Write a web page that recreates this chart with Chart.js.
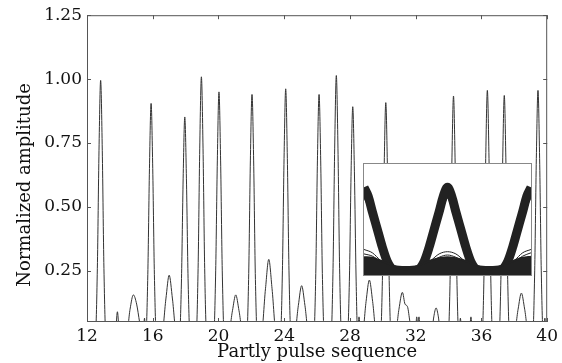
<!DOCTYPE html>
<html>
<head>
<meta charset="utf-8">
<script src="https://cdn.jsdelivr.net/npm/chart.js@4"></script>
<style>
    html, body { margin: 0; padding: 0; background: #fff; }
    #wrap { position: relative; width: 562px; height: 363px; }
    #inset {
        position: absolute; left: 363px; top: 163px;
        width: 169px; height: 113px; box-sizing: border-box;
        border: 1px solid #888; background: #fff;
    }
</style>
</head>
<body>
<div id="wrap">
    <canvas id="mainChart" width="562" height="363"></canvas>
    <div id="inset"><canvas id="insetChart" width="167" height="111"></canvas></div>
</div>
<script>
// Axis ticks
const xTicks = [12, 16, 20, 24, 28, 32, 36, 40];
const yTicks = [0.25, 0.50, 0.75, 1.00, 1.25];

// Pulse sequence trace
const pulseX = [
    12.0, 12.51, 12.63, 12.73, 12.83, 12.93, 13.03, 13.15,
    13.72, 13.85, 13.98,
    14.4, 14.62, 14.82, 15.02, 15.2, 15.35,
    15.42, 15.5, 15.56,
    15.58, 15.7, 15.8, 15.9, 16.0, 16.1, 16.22,
    16.55, 16.8, 17.0, 17.2, 17.45,
    17.63, 17.75, 17.85, 17.95, 18.05, 18.15, 18.27,
    18.64, 18.76, 18.86, 18.96, 19.06, 19.16, 19.28,
    19.71, 19.83, 19.93, 20.03, 20.13, 20.23, 20.35,
    20.6, 20.85, 21.05, 21.25, 21.5,
    21.72, 21.84, 21.94, 22.04, 22.14, 22.24, 22.36,
    22.6, 22.86, 23.06, 23.26, 23.52,
    23.77, 23.89, 23.99, 24.09, 24.19, 24.29, 24.41,
    24.62, 24.86, 25.06, 25.26, 25.5,
    25.8, 25.92, 26.02, 26.12, 26.22, 26.32, 26.44,
    26.85, 26.97, 27.07, 27.17, 27.27, 27.37, 27.49,
    27.85, 27.97, 28.07, 28.17, 28.27, 28.37, 28.47,
    28.55, 28.65,
    28.75, 28.98, 29.18, 29.38, 29.62,
    29.86, 29.98, 30.08, 30.18, 30.28, 30.38, 30.5,
    30.75, 30.98, 31.19, 31.35, 31.5, 31.65, 31.8,
    31.98, 32.06, 32.13, 32.2, 32.28,
    32.95, 33.1, 33.24, 33.38, 33.52,
    33.98, 34.1, 34.2, 34.3, 34.4, 34.5, 34.62,
    34.64, 34.72, 34.8,
    35.26, 35.36, 35.46,
    36.04, 36.16, 36.26, 36.36, 36.46, 36.56, 36.68,
    37.07, 37.19, 37.29, 37.39, 37.49, 37.59, 37.71,
    37.98, 38.23, 38.43, 38.63, 38.88,
    39.12, 39.24, 39.34, 39.44, 39.54, 39.64, 39.76,
    39.8, 39.86, 39.92, 40.0
];
const pulseY = [
    0, 0, 0.26, 0.72, 0.995, 0.72, 0.26, 0,
    0, 0.09, 0,
    0, 0.10, 0.156, 0.12, 0.05, 0,
    0, 0.065, 0,
    0, 0.235, 0.65, 0.905, 0.65, 0.235, 0,
    0, 0.14, 0.233, 0.14, 0,
    0, 0.22, 0.61, 0.852, 0.61, 0.22, 0,
    0, 0.26, 0.73, 1.009, 0.73, 0.26, 0,
    0, 0.25, 0.68, 0.95, 0.68, 0.25, 0,
    0, 0.094, 0.156, 0.094, 0,
    0, 0.24, 0.68, 0.94, 0.68, 0.24, 0,
    0, 0.18, 0.295, 0.18, 0,
    0, 0.25, 0.69, 0.962, 0.69, 0.25, 0,
    0, 0.115, 0.192, 0.115, 0,
    0, 0.24, 0.68, 0.94, 0.68, 0.24, 0,
    0, 0.26, 0.73, 1.014, 0.73, 0.26, 0,
    0, 0.23, 0.64, 0.892, 0.64, 0.23, 0,
    0.07, 0,
    0, 0.13, 0.214, 0.13, 0,
    0, 0.235, 0.65, 0.908, 0.65, 0.235, 0,
    0, 0.10, 0.166, 0.12, 0.11, 0.05, 0,
    0, 0.07, 0.04, 0.07, 0,
    0, 0.07, 0.105, 0.07, 0,
    0, 0.24, 0.67, 0.934, 0.67, 0.24, 0,
    0, 0.065, 0,
    0, 0.07, 0,
    0, 0.25, 0.69, 0.956, 0.69, 0.25, 0,
    0, 0.24, 0.67, 0.936, 0.67, 0.24, 0,
    0, 0.10, 0.163, 0.10, 0,
    0, 0.25, 0.69, 0.956, 0.69, 0.25, 0,
    0, 0.065, 0, 0
];

// Inset eye diagram (two bit periods, normalized box)
const onesX = [0, 0.05, 0.1, 0.16, 0.22, 0.28, 0.35, 0.5, 0.65, 0.72, 0.78, 0.84, 0.9, 0.95, 1.0,
               1.05, 1.1, 1.16, 1.22, 1.28, 1.35, 1.5, 1.65, 1.72, 1.78, 1.84, 1.9, 1.95, 2.0];
const onesY = [0.79, 0.71, 0.57, 0.41, 0.25, 0.12, 0.05, 0.04, 0.05, 0.12, 0.25, 0.41, 0.57, 0.71, 0.79,
               0.71, 0.57, 0.41, 0.25, 0.12, 0.05, 0.04, 0.05, 0.12, 0.25, 0.41, 0.57, 0.71, 0.79];
const onesInnerY = [0.72, 0.66, 0.53, 0.38, 0.23, 0.11, 0.05, 0.04, 0.05, 0.11, 0.23, 0.38, 0.53, 0.66, 0.72,
                    0.66, 0.53, 0.38, 0.23, 0.11, 0.05, 0.04, 0.05, 0.11, 0.23, 0.38, 0.53, 0.66, 0.72];
const gridX = [0, 0.1, 0.2, 0.3, 0.4, 0.5, 0.6, 0.7, 0.8, 0.9, 1.0,
               1.1, 1.2, 1.3, 1.4, 1.5, 1.6, 1.7, 1.8, 1.9, 2.0];
const zeroBand = [0.16, 0.155, 0.13, 0.10, 0.07, 0.05, 0.07, 0.10, 0.13, 0.15, 0.16,
                  0.15, 0.13, 0.10, 0.07, 0.05, 0.07, 0.10, 0.13, 0.155, 0.165];
const arcHigh = [0.23, 0.20, 0.13, 0.08, 0.06, 0.05, 0.06, 0.08, 0.13, 0.19, 0.21,
                 0.19, 0.13, 0.08, 0.06, 0.05, 0.06, 0.08, 0.13, 0.20, 0.23];
const arcMid = [0.19, 0.17, 0.12, 0.08, 0.06, 0.05, 0.06, 0.08, 0.12, 0.16, 0.18,
                0.16, 0.12, 0.08, 0.06, 0.05, 0.06, 0.08, 0.12, 0.17, 0.20];

function toPoints(xs, ys) {
    return xs.map((x, i) => ({ x: x, y: ys[i] }));
}

const serif = "'DejaVu Serif', serif";

// Frame, inward tick marks on all four sides, and the y title
const framePlugin = {
    id: 'frame',
    afterDraw(chart) {
        const { ctx, chartArea: a, scales } = chart;
        ctx.save();
        ctx.strokeStyle = '#555';
        ctx.lineWidth = 1;
        ctx.strokeRect(a.left + 0.5, a.top + 0.5, a.right - a.left - 1, a.bottom - a.top - 1);
        ctx.beginPath();
        xTicks.forEach(v => {
            const px = Math.round(scales.x.getPixelForValue(v)) + 0.5;
            ctx.moveTo(px, a.bottom); ctx.lineTo(px, a.bottom - 4);
            ctx.moveTo(px, a.top); ctx.lineTo(px, a.top + 4);
        });
        yTicks.forEach(v => {
            const py = Math.round(scales.y.getPixelForValue(v)) + 0.5;
            ctx.moveTo(a.left, py); ctx.lineTo(a.left + 4, py);
            ctx.moveTo(a.right, py); ctx.lineTo(a.right - 4, py);
        });
        ctx.stroke();

        // y title sits a bit below the plot middle in the original
        ctx.translate(25, 185);
        ctx.rotate(-Math.PI / 2);
        ctx.fillStyle = '#111';
        ctx.font = "18px 'DejaVu Serif', serif";
        ctx.textAlign = 'center';
        ctx.textBaseline = 'middle';
        ctx.fillText('Normalized amplitude', 0, 0);
        ctx.restore();
    }
};

new Chart(document.getElementById('mainChart'), {
    type: 'line',
    data: {
        datasets: [{
            data: toPoints(pulseX, pulseY),
            borderColor: '#333',
            borderWidth: 1,
            pointRadius: 0,
            cubicInterpolationMode: 'monotone',
            fill: false
        }]
    },
    options: {
        responsive: false,
        animation: false,
        devicePixelRatio: 1,
        layout: { padding: { top: 14, right: 11, left: 0, bottom: 0 } },
        plugins: { legend: { display: false }, tooltip: { enabled: false } },
        scales: {
            x: {
                type: 'linear',
                min: 12, max: 40,
                afterBuildTicks: s => { s.ticks = xTicks.map(v => ({ value: v })); },
                afterFit: s => { s.height = 41; },
                grid: { display: false, drawTicks: false },
                border: { display: false },
                ticks: { color: '#111', font: { family: serif, size: 17 }, padding: 4, maxRotation: 0 },
                title: {
                    display: true, text: 'Partly pulse sequence', color: '#111',
                    font: { family: serif, size: 18 }, padding: { top: 0, bottom: 0 }
                }
            },
            y: {
                min: 0.05, max: 1.25,
                afterBuildTicks: s => { s.ticks = yTicks.map(v => ({ value: v })); },
                afterFit: s => { s.width = 87; },
                grid: { display: false, drawTicks: false },
                border: { display: false },
                ticks: {
                    color: '#111', font: { family: serif, size: 17 }, padding: 5,
                    callback: v => v.toFixed(2)
                },
                title: { display: false }
            }
        }
    },
    plugins: [framePlugin]
});

// Inset
const ink = '#222';
new Chart(document.getElementById('insetChart'), {
    type: 'line',
    data: {
        datasets: [
            {
                data: toPoints(gridX, zeroBand),
                borderColor: ink, backgroundColor: ink, borderWidth: 2,
                fill: 'origin', pointRadius: 0, cubicInterpolationMode: 'monotone'
            },
            {
                data: toPoints(gridX, arcHigh),
                borderColor: ink, borderWidth: 1,
                fill: false, pointRadius: 0, cubicInterpolationMode: 'monotone'
            },
            {
                data: toPoints(gridX, arcMid),
                borderColor: ink, borderWidth: 1,
                fill: false, pointRadius: 0, cubicInterpolationMode: 'monotone'
            },
            {
                data: toPoints(onesX, onesY),
                borderColor: ink, borderWidth: 9,
                fill: false, pointRadius: 0, cubicInterpolationMode: 'monotone'
            },
            {
                data: toPoints(onesX, onesInnerY),
                borderColor: '#444', borderWidth: 5,
                fill: false, pointRadius: 0, cubicInterpolationMode: 'monotone'
            }
        ]
    },
    options: {
        responsive: false,
        animation: false,
        devicePixelRatio: 1,
        layout: { padding: 0 },
        plugins: { legend: { display: false }, tooltip: { enabled: false } },
        scales: {
            x: { type: 'linear', min: 0, max: 2, display: false },
            y: { min: 0, max: 1, display: false }
        }
    }
});
</script>
</body>
</html>
